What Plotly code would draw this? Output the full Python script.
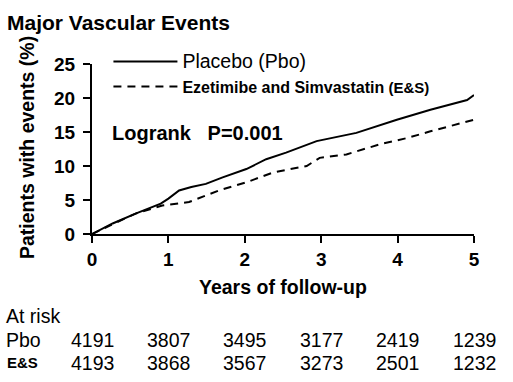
import plotly.graph_objects as go

# Data
pbo_years = [0, 0.1, 0.27, 0.57, 0.9, 1.0, 1.14, 1.3, 1.49, 1.71, 2.02, 2.28, 2.54, 2.94, 3.2, 3.46, 3.99, 4.43, 4.91, 5.0]
pbo_vals  = [0, 0.6, 1.55, 3.0, 4.46, 5.2, 6.4, 6.9, 7.37, 8.33, 9.55, 11.0, 11.96, 13.66, 14.3, 14.87, 16.8, 18.27, 19.7, 20.45]
es_years = [0, 0.1, 0.3, 0.57, 0.92, 1.27, 1.66, 2.02, 2.37, 2.81, 2.98, 3.33, 3.77, 4.12, 4.43, 5.0]
es_vals  = [0, 0.5, 1.6, 3.0, 4.2, 4.7, 6.4, 7.6, 9.05, 10.0, 11.2, 11.7, 13.2, 14.1, 15.1, 16.8]
risk_years = [0, 1, 2, 3, 4, 5]
risk_pbo = [4191, 3807, 3495, 3177, 2419, 1239]
risk_es = [4193, 3868, 3567, 3273, 2501, 1232]
x_ticks = [0, 1, 2, 3, 4, 5]
y_ticks = [0, 5, 10, 15, 20, 25]

FONT = "Arial, Liberation Sans, sans-serif"
BLACK = "black"

fig = go.Figure()
fig.add_trace(go.Scatter(x=pbo_years, y=pbo_vals, mode="lines",
                         line=dict(color=BLACK, width=2),
                         name="<span style='font-size:19.5px'>Placebo (Pbo)</span>"))
fig.add_trace(go.Scatter(x=es_years, y=es_vals, mode="lines",
                         line=dict(color=BLACK, width=2, dash="8px,6px"),
                         name="<b><span style='font-size:16px'>Ezetimibe and Simvastatin</span>"
                              "<span style='font-size:15px'> (E&S)</span></b>"))

def ann(text, x, y, size, xanchor="left", xref="paper", angle=0):
    return dict(text=text, xref=xref, yref="paper", x=x, y=y, xanchor=xanchor,
                yanchor="middle", showarrow=False, textangle=angle, borderpad=0,
                font=dict(size=size, family=FONT, color=BLACK))

annotations = [
    ann("<b>Major Vascular Events</b>", -0.224, 1.243, 21),
    ann("<b>Patients with events (%)</b>", -0.170, 0.506, 19.5, xanchor="center", angle=-90),
    ann("<b>Logrank   P=0.001</b>", 0.050, 0.594, 20),
    ann("<b>Years of follow-up</b>", 0.5, -0.312, 19.5, xanchor="center"),
    ann("At risk", -0.228, -0.485, 19.5),
    ann("Pbo", -0.228, -0.624, 19.5),
    ann("<b>E&S</b>", -0.225, -0.756, 15),
]
for xv, n in zip(risk_years, risk_pbo):
    annotations.append(ann(str(n), xv, -0.624, 19.5, xanchor="center", xref="x"))
for xv, n in zip(risk_years, risk_es):
    annotations.append(ann(str(n), xv, -0.756, 19.5, xanchor="center", xref="x"))

fig.update_layout(
    width=513, height=382,
    margin=dict(l=92, r=39, t=64, b=148),
    paper_bgcolor="white", plot_bgcolor="white",
    font=dict(family=FONT, color=BLACK),
    showlegend=True,
    legend=dict(x=0.043, y=1.118, xanchor="left", yanchor="top",
                bgcolor="rgba(0,0,0,0)", font=dict(size=17, family=FONT, color=BLACK),
                itemwidth=64, tracegroupgap=0),
    annotations=annotations,
)
axis_common = dict(showline=True, linecolor=BLACK, linewidth=2, ticks="outside",
                   ticklen=7, tickwidth=2, tickcolor=BLACK, showgrid=False, zeroline=False,
                   tickfont=dict(size=19, family=FONT, color=BLACK))
fig.update_xaxes(range=[0, 5], tickvals=x_ticks, ticktext=[f"<b>{v}</b>" for v in x_ticks],
                 ticklabelstandoff=0, **axis_common)
fig.update_yaxes(range=[0, 25], tickvals=y_ticks, ticktext=[f"<b>{v}</b>" for v in y_ticks],
                 ticklabelstandoff=4, **axis_common)

fig.write_html("out.html", config={"displayModeBar": False},
               post_script="document.body.style.margin='0';")
